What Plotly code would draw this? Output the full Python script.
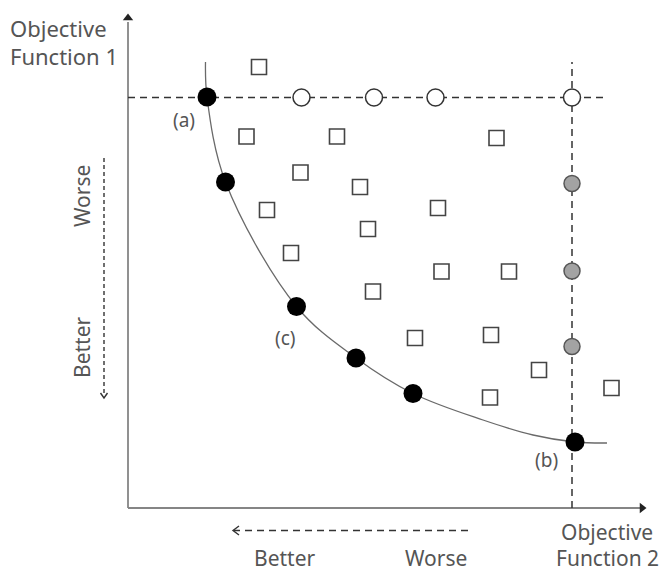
import plotly.graph_objects as go

# ---- data (objective-space units) ----
front_x = [7.9, 9.75, 16.85, 22.8, 28.5, 44.7]
front_y = [41.1, 32.6, 20.15, 15.0, 11.45, 6.6]

curve_x = [7.75, 7.9, 9.75, 16.85, 22.8, 28.5, 35.5, 40.5, 44.7, 47.9]
curve_y = [44.6, 41.1, 32.6, 20.15, 15.0, 11.45, 8.8, 7.3, 6.6, 6.5]

open_x = [17.35, 24.6, 30.75, 44.4]
open_y = [41.05, 41.05, 41.05, 41.05]

gray_x = [44.4, 44.4, 44.4]
gray_y = [32.45, 23.7, 16.15]

sq_x = [13.1, 11.85, 20.9, 36.85, 17.25, 23.2, 13.9, 31.0, 24.0, 16.3,
        31.35, 38.1, 24.5, 28.7, 36.3, 41.1, 48.35, 36.2]
sq_y = [44.1, 37.15, 37.15, 37.0, 33.55, 32.1, 29.8, 30.0, 27.9, 25.5,
        23.65, 23.65, 21.65, 17.0, 17.3, 13.8, 12.0, 11.05]

label_text = ["(a)", "(c)", "(b)"]
label_x = [5.55, 15.75, 41.85]
label_y = [38.8, 17.0, 4.8]

X_RANGE = [-12.8, 54.1]
Y_RANGE = [-6.5, 50.8]
ref_y = 41.05      # horizontal reference (best objective 1)
ref_x = 44.4       # vertical reference (best objective 2)

TXT = "#555555"
FONT = "Noto Sans"

fig = go.Figure()

# axes lines
fig.add_trace(go.Scatter(x=[0, 0], y=[0, 48.6], mode="lines",
                         line=dict(color="#858585", width=1.8), hoverinfo="skip"))
fig.add_trace(go.Scatter(x=[0, 51.2], y=[0, 0], mode="lines",
                         line=dict(color="#858585", width=1.8), hoverinfo="skip"))
fig.add_trace(go.Scatter(x=[0], y=[49.0], mode="markers",
                         marker=dict(symbol="triangle-up", size=9, color="#222"),
                         cliponaxis=False, hoverinfo="skip"))
fig.add_trace(go.Scatter(x=[51.4], y=[0], mode="markers",
                         marker=dict(symbol="triangle-right", size=9, color="#222"),
                         cliponaxis=False, hoverinfo="skip"))

# dashed reference lines
fig.add_trace(go.Scatter(x=[0, 47.9], y=[ref_y, ref_y], mode="lines",
                         line=dict(color="#333", width=1.5, dash="7px,5px"), hoverinfo="skip"))
fig.add_trace(go.Scatter(x=[ref_x, ref_x], y=[0, 44.6], mode="lines",
                         line=dict(color="#333", width=1.5, dash="7px,5px"), hoverinfo="skip"))

# direction arrows (dashed, open chevron heads)
fig.add_trace(go.Scatter(x=[-2.4, -2.4], y=[35.0, 11.2], mode="lines",
                         line=dict(color="#333", width=1.4, dash="4px,3px"), hoverinfo="skip"))
fig.add_trace(go.Scatter(x=[-2.75, -2.4, -2.05], y=[11.5, 11.0, 11.5], mode="lines",
                         line=dict(color="#333", width=1.4), hoverinfo="skip"))
fig.add_trace(go.Scatter(x=[34.0, 10.6], y=[-2.25, -2.25], mode="lines",
                         line=dict(color="#333", width=1.4, dash="7px,5px"), hoverinfo="skip"))
fig.add_trace(go.Scatter(x=[11.1, 10.5, 11.1], y=[-1.8, -2.25, -2.7], mode="lines",
                         line=dict(color="#333", width=1.4), hoverinfo="skip"))

# Pareto front curve
fig.add_trace(go.Scatter(x=curve_x, y=curve_y, mode="lines",
                         line=dict(color="#6a6a6a", width=1.3, shape="spline", smoothing=1.0),
                         hoverinfo="skip"))

# dominated solutions (squares)
fig.add_trace(go.Scatter(x=sq_x, y=sq_y, mode="markers",
                         marker=dict(symbol="square", size=15, color="white",
                                     line=dict(color="#444", width=1.6)),
                         cliponaxis=False, hoverinfo="skip"))
# open circles
fig.add_trace(go.Scatter(x=open_x, y=open_y, mode="markers",
                         marker=dict(symbol="circle", size=17, color="white",
                                     line=dict(color="#333", width=1.5)),
                         cliponaxis=False, hoverinfo="skip"))
# gray circles
fig.add_trace(go.Scatter(x=gray_x, y=gray_y, mode="markers",
                         marker=dict(symbol="circle", size=16, color="#a3a3a3",
                                     line=dict(color="#555", width=1.5)),
                         cliponaxis=False, hoverinfo="skip"))
# Pareto optimal (black)
fig.add_trace(go.Scatter(x=front_x, y=front_y, mode="markers",
                         marker=dict(symbol="circle", size=19, color="black",
                                     line=dict(color="black", width=0)),
                         cliponaxis=False, hoverinfo="skip"))

ann = []
def txt(x, y, s, size=21, xanchor="center", angle=0):
    ann.append(dict(x=x, y=y, xref="x", yref="y", text=s, showarrow=False,
                    xanchor=xanchor, yanchor="middle", textangle=angle,
                    font=dict(family=FONT, size=size, color=TXT)))

for s, x, y in zip(label_text, label_x, label_y):
    txt(x, y, s, size=19)

txt(-12.0, 48.0, "Objective", xanchor="left", size=22)
txt(-12.0, 45.2, "Function 1", xanchor="left", size=22)
txt(47.9, -2.4, "Objective")
txt(47.9, -5.0, "Function 2")
txt(15.7, -5.0, "Better")
txt(30.8, -5.0, "Worse")
txt(-4.6, 31.2, "Worse", angle=-90)
txt(-4.6, 16.1, "Better", angle=-90)

fig.update_layout(
    width=669, height=573, autosize=False,
    margin=dict(l=0, r=0, t=0, b=0),
    paper_bgcolor="white", plot_bgcolor="white",
    showlegend=False,
    xaxis=dict(range=X_RANGE, visible=False, fixedrange=True),
    yaxis=dict(range=Y_RANGE, visible=False, fixedrange=True),
    annotations=ann,
)

fig.write_html("out.html")
